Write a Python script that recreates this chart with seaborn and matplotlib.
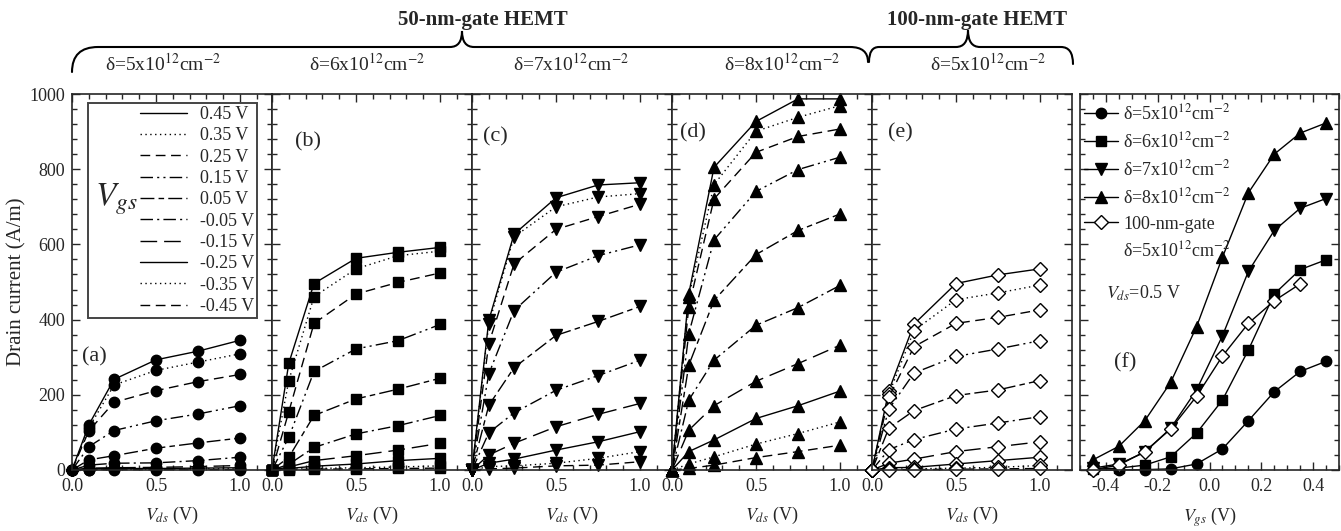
import numpy as np
import pandas as pd
import matplotlib.pyplot as plt
import seaborn as sns
from matplotlib.lines import Line2D
from matplotlib.patches import Rectangle, PathPatch
from matplotlib.path import Path
from matplotlib.ticker import MultipleLocator, NullFormatter

# drain voltage points (V)
VDS = [0.0, 0.1, 0.25, 0.5, 0.75, 1.0]
VGS = ['0.45 V', '0.35 V', '0.25 V', '0.15 V', '0.05 V',
       '-0.05 V', '-0.15 V', '-0.25 V', '-0.35 V', '-0.45 V']

# drain current (A/m), one row per Vgs (0.45 V ... -0.45 V)
ID_A = [[0, 120, 241, 293, 316, 345],
        [0, 112, 226, 265, 287, 309],
        [0, 104, 180, 211, 235, 254],
        [0, 62, 105, 131, 149, 171],
        [0, 27, 38, 58, 72, 85],
        [0, 13, 18, 19, 25, 34],
        [0, 5, 6, 7, 9, 12],
        [0, 3, 4, 4, 5, 6],
        [0, 1, 2, 2, 3, 3],
        [0, 0.5, 1, 1, 1, 1]]
ID_B = [[0, 284, 496, 563, 579, 592],
        [0, 238, 461, 535, 570, 582],
        [0, 155, 390, 468, 499, 524],
        [0, 87, 262, 322, 344, 387],
        [0, 34, 145, 189, 215, 244],
        [0, 15, 60, 96, 118, 145],
        [0, 8, 25, 38, 53, 71],
        [0, 4, 10, 16, 25, 31],
        [0, 2, 4, 6, 8, 11],
        [0, 1, 2, 3, 4, 5]]
ID_C = [[0, 398, 627, 724, 758, 764],
        [0, 389, 620, 700, 726, 735],
        [0, 336, 548, 640, 674, 707],
        [0, 256, 424, 526, 570, 599],
        [0, 172, 272, 358, 395, 435],
        [0, 99, 152, 212, 251, 292],
        [0, 40, 71, 115, 148, 177],
        [0, 18, 29, 53, 75, 102],
        [0, 9, 11, 18, 31, 49],
        [0, 3, 5, 11, 13, 22]]
ID_D = [[0, 469, 805, 927, 987, 987],
        [0, 460, 759, 901, 938, 969],
        [0, 434, 721, 845, 887, 907],
        [0, 363, 612, 741, 799, 832],
        [0, 279, 451, 573, 637, 681],
        [0, 186, 292, 385, 432, 491],
        [0, 106, 171, 236, 283, 332],
        [0, 49, 80, 137, 171, 210],
        [0, 16, 35, 69, 97, 128],
        [0, 4, 13, 33, 49, 66]]
ID_E = [[0, 211, 388, 496, 519, 535],
        [0, 202, 371, 453, 471, 492],
        [0, 193, 328, 390, 406, 426],
        [0, 162, 258, 302, 322, 344],
        [0, 111, 158, 198, 213, 238],
        [0, 54, 81, 109, 125, 142],
        [0, 18, 29, 49, 62, 75],
        [0, 6, 7, 16, 25, 34],
        [0, 2, 3, 5, 7, 12],
        [0, 1, 1, 2, 3, 4]]

# transfer curves at Vds = 0.5 V
VGS_F = [-0.45, -0.35, -0.25, -0.15, -0.05, 0.05, 0.15, 0.25, 0.35, 0.45]
F_D5 = [0, 0, 1, 3, 16, 56, 131, 208, 262, 289]
F_D6 = [2, 5, 13, 35, 98, 186, 319, 468, 533, 559]
F_D7 = [5, 16, 47, 111, 213, 357, 528, 637, 696, 722]
F_D8 = [27, 63, 131, 233, 381, 566, 737, 840, 896, 923]
F_100NM = [1, 13, 49, 109, 196, 303, 390, 450, 495]

PANELS = [ID_A, ID_B, ID_C, ID_D, ID_E]
PANEL_MARKERS = ['o', 's', 'v', '^', 'D']
PANEL_TAGS = ['(a)', '(b)', '(c)', '(d)', '(e)']
PANEL_DELTA = ['5', '6', '7', '8', '5']

DASHES = {'0.45 V': '', '0.35 V': (1, 2.5), '0.25 V': (7, 4),
          '0.15 V': (9, 3, 1.5, 3, 1.5, 3), '0.05 V': (10, 3, 4, 3),
          '-0.05 V': (9, 3, 1.5, 3), '-0.15 V': (12, 5),
          '-0.25 V': '', '-0.35 V': (1, 2.5), '-0.45 V': (7, 4)}


def to_long(rows):
    recs = []
    for vgs, ids in zip(VGS, rows):
        for vds, cur in zip(VDS, ids):
            recs.append((vds, cur, vgs))
    return pd.DataFrame(recs, columns=['Vds', 'Id', 'Vgs'])


sns.set_style('ticks', {'xtick.direction': 'in', 'ytick.direction': 'in'})
plt.rcParams['font.family'] = ['Liberation Serif', 'DejaVu Serif']
plt.rcParams['mathtext.fontset'] = 'stix'
plt.rcParams['axes.unicode_minus'] = False
plt.rcParams['axes.linewidth'] = 1.2

W, H = 1341, 531
fig = plt.figure(figsize=(W / 100, H / 100), dpi=100)


def px_axes(x0, x1, y0=94, y1=470):
    return fig.add_axes([x0 / W, 1 - y1 / H, (x1 - x0) / W, (y1 - y0) / H])


def style_ticks(ax):
    ax.tick_params(which='both', direction='in', top=True, right=True,
                   labelsize=13, width=1)
    ax.tick_params(which='major', length=6)
    ax.tick_params(which='minor', length=3.5)
    ax.tick_params(axis='x', pad=6)
    ax.tick_params(axis='y', pad=5)
    ax.set_ylim(0, 1000)
    ax.yaxis.set_major_locator(MultipleLocator(200))
    ax.yaxis.set_minor_locator(MultipleLocator(40))


tag_pos = [(0.05, 0.30), (0.115, 0.872), (0.055, 0.886), (0.04, 0.896), (0.08, 0.896)]
delta_x = [0.455, 0.475, 0.495, 0.55, 0.58]

axes = []
for i, rows in enumerate(PANELS):
    ax = px_axes(72 + 200 * i, 272 + 200 * i)
    df = to_long(rows)
    mk = PANEL_MARKERS[i]
    kw = dict(marker=mk, color='k', mec='k', mew=1, lw=1, ms=7.5)
    if mk == 'D':
        kw.update(mfc='white', ms=7)
    elif mk in '^v':
        kw.update(ms=8.5)
    elif mk == 's':
        kw.update(ms=7)
    sns.lineplot(data=df, x='Vds', y='Id', style='Vgs', style_order=VGS,
                 dashes=DASHES, estimator=None, legend=False, ax=ax,
                 clip_on=False, **kw)
    ax.set_xlim(0, 1.19)
    ax.xaxis.set_major_locator(MultipleLocator(0.5))
    ax.xaxis.set_minor_locator(MultipleLocator(0.1))
    ax.xaxis.set_major_formatter(lambda v, p: f'{v:.1f}')
    style_ticks(ax)
    ax.set_xlabel('$V_{ds}$ (V)', fontsize=13, labelpad=7)
    if i == 0:
        ax.set_ylabel('Drain current (A/m)', fontsize=15, labelpad=2)
    else:
        ax.set_ylabel('')
        ax.yaxis.set_major_formatter(NullFormatter())
    ax.text(*tag_pos[i], PANEL_TAGS[i], transform=ax.transAxes,
            fontsize=16, ha='left', va='center')
    ax.text(delta_x[i], 1.082,
            'δ=' + PANEL_DELTA[i] + 'x10$^{12}$cm$^{-2}$',
            transform=ax.transAxes, fontsize=14, ha='center', va='center')
    axes.append(ax)

# legend box in panel (a)
ax = axes[0]
handles = []
for lab in VGS:
    d = DASHES[lab]
    ls = '-' if d == '' else (0, d)
    handles.append(Line2D([], [], color='k', lw=1, linestyle=ls))
ax.add_patch(Rectangle((0.08, 0.404), 0.845, 0.572, transform=ax.transAxes,
                       fill=False, edgecolor='#444444', lw=1.4, zorder=5))
ax.legend(handles, VGS, loc='upper right', bbox_to_anchor=(0.91, 0.968),
          frameon=False, fontsize=13, handlelength=2.6, handletextpad=0.7,
          labelspacing=0.24, borderpad=0, borderaxespad=0)
ax.text(0.22, 0.72, '$V_{gs}$', transform=ax.transAxes, fontsize=24,
        ha='center', va='center')

# panel (f)
axf = px_axes(1080, 1339)
f_series = [(F_D5, 'o'), (F_D6, 's'), (F_D7, 'v'), (F_D8, '^')]
for n, (vals, mk) in zip(['5', '6', '7', '8'], f_series):
    sns.lineplot(x=VGS_F, y=vals, ax=axf, color='k', marker=mk, mec='k',
                 mew=1, lw=1, ms=8.5 if mk in '^v' else 7.5, clip_on=False,
                 label='δ=' + n + 'x10$^{12}$cm$^{-2}$')
sns.lineplot(x=VGS_F[:len(F_100NM)], y=F_100NM, ax=axf, color='k', marker='D',
             mfc='white', mec='k', mew=1, lw=1, ms=7, clip_on=False,
             label='100-nm-gate')
axf.set_xlim(-0.5, 0.5)
axf.xaxis.set_major_locator(MultipleLocator(0.2))
axf.xaxis.set_minor_locator(MultipleLocator(0.05))
axf.xaxis.set_major_formatter(lambda v, p: f'{v:.1f}')
style_ticks(axf)
axf.yaxis.set_major_formatter(NullFormatter())
axf.set_xlabel('$V_{gs}$ (V)', fontsize=13, labelpad=7)
axf.set_ylabel('')
h, l = axf.get_legend_handles_labels()
h.append(Line2D([], [], color='none'))
l.append('δ=5x10$^{12}$cm$^{-2}$')
axf.legend(h, l, loc='upper left', bbox_to_anchor=(0.0, 0.985), frameon=False,
           fontsize=13, handlelength=1.9, handletextpad=0.3,
           labelspacing=0.45, borderpad=0, borderaxespad=0.2)
axf.text(0.1, 0.47, '$V_{ds}$=0.5 V', transform=axf.transAxes, fontsize=13,
         ha='left', va='center')
axf.text(0.13, 0.285, '(f)', transform=axf.transAxes, fontsize=16,
         ha='left', va='center')

# braces and group titles (pixel coordinates overlay)
ov = fig.add_axes([0, 0, 1, 1], zorder=-1)
ov.set_xlim(0, W)
ov.set_ylim(H, 0)
ov.axis('off')


def brace(x0, x1, xt, yl=47, ye0=72, ye1=62, yt=31, r0=26, r1=18, rt=12):
    verts = [(x0, ye0), (x0, yl), (x0 + r0, yl),
             (xt - rt, yl), (xt, yl), (xt, yt),
             (xt, yl), (xt + rt, yl),
             (x1 - r1, yl), (x1, yl), (x1, ye1)]
    codes = [Path.MOVETO, Path.CURVE3, Path.CURVE3, Path.LINETO,
             Path.CURVE3, Path.CURVE3, Path.CURVE3, Path.CURVE3,
             Path.LINETO, Path.CURVE3, Path.CURVE3]
    ov.add_patch(PathPatch(Path(verts, codes), fill=False, lw=1.5,
                           edgecolor='k', capstyle='round'))


brace(72, 868, 462)
brace(869, 1073, 968, ye0=62, ye1=64, r0=10, r1=12, yt=30)
ov.text(483, 20, '50-nm-gate HEMT', fontsize=15, fontweight='bold',
        ha='center', va='center')
ov.text(977, 20, '100-nm-gate HEMT', fontsize=15, fontweight='bold',
        ha='center', va='center')

fig.savefig('out.png', dpi=100)
